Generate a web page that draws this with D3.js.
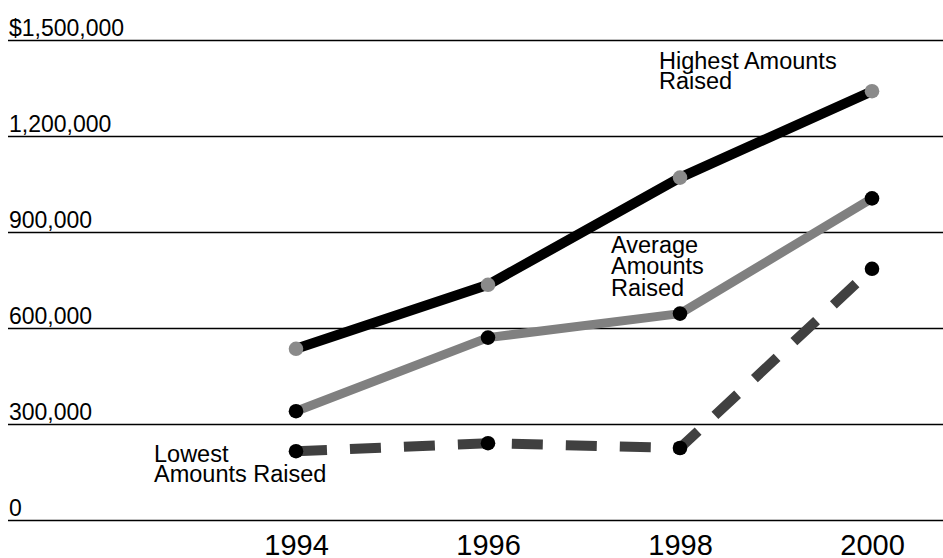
<!DOCTYPE html>
<html>
<head>
<meta charset="utf-8">
<script src="https://cdn.jsdelivr.net/npm/d3@7"></script>
<style>
  html, body { margin: 0; padding: 0; background: #fff; }
  svg { display: block; font-family: "Liberation Sans", Arial, Helvetica, sans-serif; }
</style>
</head>
<body>
<svg id="chart" width="943" height="558"></svg>
<script>
// Fundraising amounts by year
const years = ["1994", "1996", "1998", "2000"];
const highest = [535000, 735000, 1070000, 1340000];
const average = [340000, 570000, 645000, 1005000];
const lowest  = [215000, 240000, 225000, 785000];

const yTicks = [0, 300000, 600000, 900000, 1200000, 1500000];
const yTickLabels = ["0", "300,000", "600,000", "900,000", "1,200,000", "$1,500,000"];

const svg = d3.select("#chart");

const x = d3.scalePoint().domain(years).range([296, 872]);
const y = d3.scaleLinear().domain([0, 1500000]).range([520, 40]);

// Horizontal gridlines with labels sitting just above each line
const yAxis = d3.axisRight(y)
  .tickValues(yTicks)
  .tickSize(935)
  .tickFormat((d, i) => yTickLabels[i]);

const gy = svg.append("g").attr("transform", "translate(8,0)").call(yAxis);
gy.select(".domain").remove();
gy.selectAll(".tick line").attr("stroke", "#000").attr("stroke-width", 1.5);
gy.selectAll(".tick text")
  .attr("x", 1)
  .attr("dy", -5)
  .attr("text-anchor", "start")
  .attr("fill", "#000")
  .style("font-size", "23px")
  .style("font-family", "'Liberation Sans', Arial, sans-serif");

// Year labels along the bottom
const xAxis = d3.axisBottom(x).tickSize(0);
const gx = svg.append("g").attr("transform", "translate(0,520)").call(xAxis);
gx.select(".domain").remove();
gx.selectAll(".tick text")
  .attr("y", 35)
  .attr("dy", 0)
  .attr("fill", "#000")
  .style("font-size", "29px")
  .style("font-family", "'Liberation Sans', Arial, sans-serif");

const line = d3.line()
  .x((d, i) => x(years[i]))
  .y(d => y(d));

// Lowest amounts: dashed dark grey
svg.append("path")
  .datum(lowest)
  .attr("d", line)
  .attr("fill", "none")
  .attr("stroke", "#404040")
  .attr("stroke-width", 10)
  .attr("stroke-dasharray", "31 23");

// Average amounts: grey
svg.append("path")
  .datum(average)
  .attr("d", line)
  .attr("fill", "none")
  .attr("stroke", "#808080")
  .attr("stroke-width", 9)
  .attr("stroke-linejoin", "round");

// Highest amounts: black
svg.append("path")
  .datum(highest)
  .attr("d", line)
  .attr("fill", "none")
  .attr("stroke", "#000")
  .attr("stroke-width", 10)
  .attr("stroke-linejoin", "round");

function markers(data, color) {
  svg.append("g")
    .selectAll("circle")
    .data(data)
    .join("circle")
    .attr("cx", (d, i) => x(years[i]))
    .attr("cy", d => y(d))
    .attr("r", 7.3)
    .attr("fill", color);
}
markers(lowest, "#000");
markers(average, "#000");
markers(highest, "#8a8a8a");

// Series annotations
function label(lines, xPos, yPos, lh) {
  const t = svg.append("text")
    .attr("x", xPos)
    .attr("y", yPos)
    .attr("fill", "#000")
    .style("font-size", "23.5px");
  lines.forEach((s, i) => {
    t.append("tspan")
      .attr("x", xPos)
      .attr("y", yPos + i * lh)
      .text(s);
  });
}
label(["Highest Amounts", "Raised"], 659, 69, 20);
label(["Average", "Amounts", "Raised"], 611, 253, 21.3);
label(["Lowest", "Amounts Raised"], 154, 462, 20);
</script>
</body>
</html>
